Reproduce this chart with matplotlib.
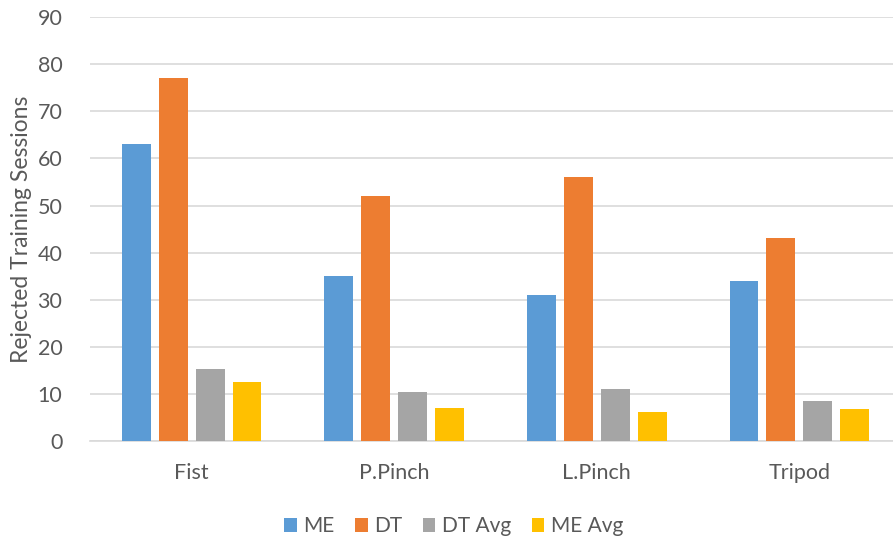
import numpy as np
import matplotlib.pyplot as plt

# Данные
grasps = ['Fist', 'P.Pinch', 'L.Pinch', 'Tripod']
me = [63, 35, 31, 34]
dt = [77, 52, 56, 43]
dt_avg = [15.3, 10.4, 11.1, 8.4]
me_avg = [12.5, 6.9, 6.1, 6.7]

series = [('ME', me, '#5B9BD5'),
          ('DT', dt, '#ED7D31'),
          ('DT Avg', dt_avg, '#A5A5A5'),
          ('ME Avg', me_avg, '#FFC000')]

plt.rcParams['font.family'] = ['Lato', 'DejaVu Sans']
text_color = '#595959'

fig = plt.figure(figsize=(8.93, 5.39), dpi=100)
# область графика чуть выходит за правый край
ax = fig.add_axes([90.2 / 893, 0.182, 810.6 / 893, 0.786])

x = np.arange(len(grasps))
width = 0.143
step = 0.1825
for i, (name, vals, color) in enumerate(series):
    ax.bar(x + (i - 1.5) * step, vals, width, color=color, label=name, zorder=3)

ax.set_xlim(-0.5, len(grasps) - 0.5)
ax.set_ylim(0, 90)
ax.set_yticks(range(0, 91, 10))
ax.set_xticks(x)
ax.set_xticklabels(grasps)
ax.yaxis.grid(True, color='#D9D9D9', linewidth=1.2, zorder=0)
for s in ['top', 'right', 'left']:
    ax.spines[s].set_visible(False)
ax.spines['bottom'].set_color('#D9D9D9')
ax.spines['bottom'].set_linewidth(1.2)
ax.tick_params(axis='both', length=0, labelsize=15.5, colors=text_color)
ax.tick_params(axis='x', pad=16)
ax.tick_params(axis='y', pad=20)
ax.set_ylabel('Rejected Training Sessions', fontsize=16.5, color=text_color, labelpad=4)

fig.legend(loc='lower center', bbox_to_anchor=(0.508, -0.03), ncol=4, frameon=False,
           fontsize=15, labelcolor=text_color, handlelength=0.6, handleheight=0.6,
           handletextpad=0.3, columnspacing=1.0)

fig.savefig('out.png', dpi=100)
